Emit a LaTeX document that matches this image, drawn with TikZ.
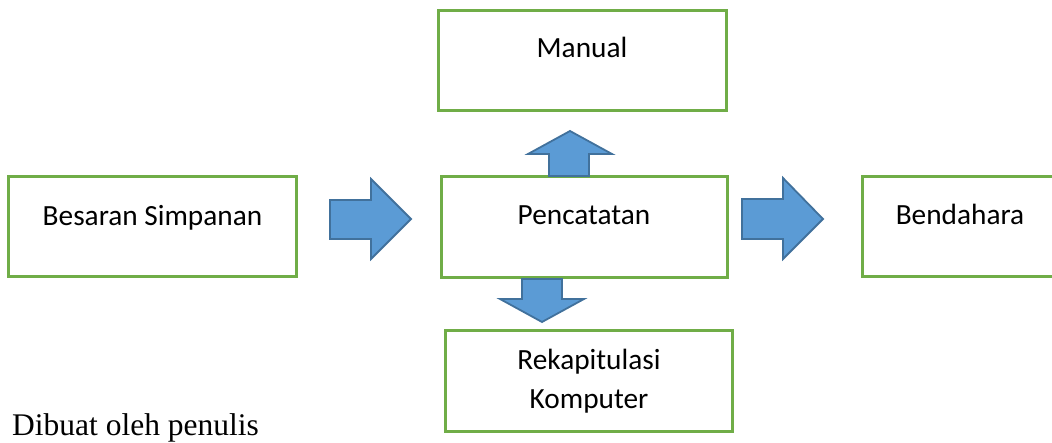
\documentclass[tikz,border=0pt]{standalone}
\usepackage{fontspec}
\setmainfont{Carlito}
\newfontfamily\capfont{Liberation Serif}
\definecolor{boxgreen}{HTML}{70AD47}
\definecolor{arrfill}{HTML}{5B9BD5}
\definecolor{arrline}{HTML}{41719C}
\tikzset{
  greenbox/.style={draw=boxgreen, line width=3pt, fill=white},
  blockarrow/.style={draw=arrline, fill=arrfill, line width=1.8pt, line join=miter},
  boxtext/.style={font=\fontsize{29.3}{39}\selectfont, anchor=base, inner sep=0pt, align=center},
}
\begin{document}
\begin{tikzpicture}[x=1pt,y=-1pt]
\useasboundingbox (0,0) rectangle (1052,443);
\clip (0,0) rectangle (1052,443);
% boxes
\draw[greenbox] (8,177) rectangle (296,277);
\draw[greenbox] (441,177) rectangle (727,278);
\draw[greenbox] (438,11) rectangle (726,111);
\draw[greenbox] (862,177) rectangle (1058,277);
\draw[greenbox] (445,331) rectangle (732,431);
% texts
\node[boxtext] (besaran) at (152.5,225.5) {Besaran Simpanan};
\node[boxtext] (pencatatan) at (584,225) {Pencatatan};
\node[boxtext] (manual) at (582,58) {Manual};
\node[boxtext] (bendahara) at (960,225) {Bendahara};
\node[boxtext] (rekap) at (589,370) {Rekapitulasi};
\node[boxtext] (komputer) at (589,409) {Komputer};
% block arrows
\draw[blockarrow] (330,200) -- (371,200) -- (371,179) -- (411,219) -- (371,259) -- (371,239) -- (330,239) -- cycle;
\draw[blockarrow] (742,199) -- (783,199) -- (783,178) -- (823,219) -- (783,259) -- (783,239) -- (742,239) -- cycle;
\draw[blockarrow] (549,176) -- (549,154) -- (528,154) -- (570,131) -- (612,154) -- (589,154) -- (589,176) -- cycle;
\draw[blockarrow] (522,279) -- (522,299) -- (500,299) -- (542,322) -- (584,299) -- (562,299) -- (562,279) -- cycle;
% caption
\node[font=\capfont\fontsize{31.5}{38}\selectfont, anchor=base west, inner sep=0pt] (caption) at (12,435) {Dibuat oleh penulis};
\end{tikzpicture}
\end{document}
